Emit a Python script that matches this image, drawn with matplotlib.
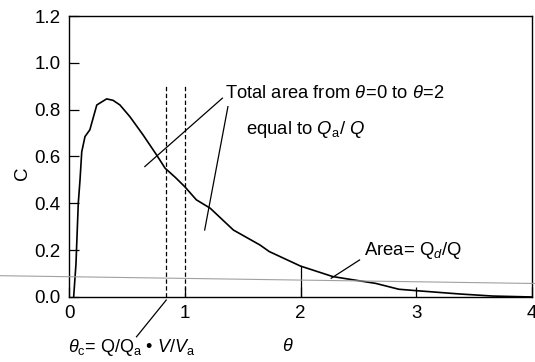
# Residence time distribution curve C(theta) with dead zone / bypass annotations
import matplotlib.pyplot as plt
from matplotlib.lines import Line2D

plt.rcParams['font.family'] = ['Liberation Sans', 'DejaVu Sans']
plt.rcParams['mathtext.fontset'] = 'custom'
plt.rcParams['mathtext.rm'] = 'Liberation Sans'
plt.rcParams['mathtext.it'] = 'Liberation Sans:italic'

# curve
theta = [0.04, 0.06, 0.08, 0.095, 0.11, 0.138, 0.18, 0.24, 0.325, 0.38, 0.44, 0.526,
         0.64, 0.756, 0.83, 0.92, 1.0, 1.10, 1.22, 1.42, 1.65, 1.73, 2.0, 2.28,
         2.65, 2.85, 3.0, 3.37, 3.66, 4.0]
C = [0.0, 0.14, 0.40, 0.50, 0.62, 0.685, 0.714, 0.82, 0.846, 0.84, 0.82, 0.77,
     0.692, 0.607, 0.55, 0.51, 0.471, 0.415, 0.379, 0.286, 0.222, 0.194, 0.132, 0.087,
     0.058, 0.033, 0.027, 0.013, 0.004, 0.0]

theta_c = 0.84
dashed_x = [theta_c, 1.0]
xticks = [0, 1, 2, 3, 4]
yticks = [0.0, 0.2, 0.4, 0.6, 0.8, 1.0, 1.2]

fig = plt.figure(figsize=(5.35, 3.62), dpi=100)
ax = fig.add_axes([0.129, 0.1796, 0.8654, 0.7762])

ax.plot(theta, C, color='black', lw=1.2)
for xd in dashed_x:
    ax.plot([xd, xd], [0, 0.91], color='black', lw=0.9, ls=(0, (3.5, 2)))
# boundary at theta=2
ax.plot([2, 2], [0, 0.132], color='black', lw=0.9)

ax.set_xlim(0, 4)
ax.set_ylim(0, 1.2)
ax.set_xticks(xticks)
ax.set_yticks(yticks)
ax.set_yticklabels(['%.1f' % v for v in yticks])
ax.tick_params(direction='in', length=7, width=0.9, labelsize=13.5, pad=6)
for s in ax.spines.values():
    s.set_linewidth(1.0)

ax.set_xlabel(r'$\theta$', fontsize=13)
ax.xaxis.set_label_coords(0.473, -0.145)
ax.set_ylabel('C', fontsize=13.5)
ax.yaxis.set_label_coords(-0.083, 0.44)

ax.text(1.345, 0.87, r'Total area from $\mathit{\theta\!=\!0}$ to $\mathit{\theta\!=\!2}$',
        fontsize=13.2, va='center', ha='left')
ax.text(1.53, 0.714, r'equal to $Q_\mathrm{a}$/ $Q$', fontsize=13.3, va='center', ha='left')
ax.plot([1.325, 0.655], [0.849, 0.557], color='black', lw=0.9)
ax.plot([1.373, 1.172], [0.813, 0.286], color='black', lw=0.9)

ax.text(2.55, 0.20, r'Area= Q$_{\mathit{d}}$/Q', fontsize=13.3, va='center', ha='left')
ax.plot([2.51, 2.265], [0.158, 0.08], color='black', lw=0.9)

ax.text(-0.01, -0.215, r'$\theta_\mathrm{c}$= Q/Q$_\mathrm{a}$ • $V$/$V_\mathrm{a}$',
        fontsize=13, va='center', ha='left', clip_on=False)
ax.plot([0.84, 0.583], [-0.013, -0.17], color='black', lw=0.9, clip_on=False)

# faint scan line running across the page
fig.add_artist(Line2D([0, 1], [1 - 275.7 / 362, 1 - 283.5 / 362], transform=fig.transFigure,
                      color='#a0a0a0', lw=0.8))

fig.savefig('out.png', dpi=100)
